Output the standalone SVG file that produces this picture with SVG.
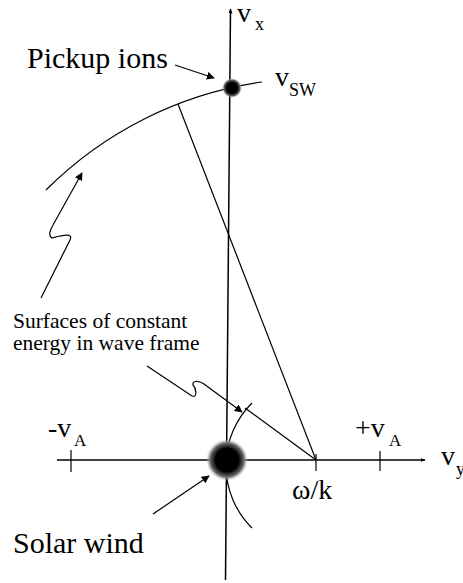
<svg xmlns="http://www.w3.org/2000/svg" width="463" height="583" viewBox="0 0 463 583">
<style>
.ln{fill:none;stroke:#000;stroke-width:1.2}
.ax{fill:none;stroke:#000;stroke-width:1.5}
</style>
<defs>
<marker id="ah" viewBox="0 0 10 10" refX="9" refY="5" markerWidth="8" markerHeight="8" markerUnits="userSpaceOnUse" orient="auto">
<path d="M0,0 L10,5 L0,10 z" fill="#000"/>
</marker>
<marker id="axh" viewBox="0 0 10 10" refX="9" refY="5" markerWidth="5" markerHeight="5" markerUnits="userSpaceOnUse" orient="auto">
<path d="M0,1 L10,5 L0,9 z" fill="#000"/>
</marker>
<radialGradient id="blob">
<stop offset="0" stop-color="#000"/>
<stop offset="0.55" stop-color="#000"/>
<stop offset="0.8" stop-color="#666"/>
<stop offset="1" stop-color="#ccc" stop-opacity="0"/>
</radialGradient>
</defs>
<g id="axes">
<line class="ax" x1="225.5" y1="580" x2="230.5" y2="9" marker-end="url(#axh)"/>
<line class="ax" x1="57" y1="460" x2="425" y2="460" marker-end="url(#axh)"/>
<line class="ln" x1="71" y1="450" x2="71" y2="472"/>
<line class="ln" x1="316" y1="454" x2="316" y2="471"/>
<line class="ln" x1="380" y1="451" x2="380" y2="471"/>
</g>
<g id="connectors">
<path class="ln" d="M46,190 A382,382 0 0 1 262,82"/>
<line class="ln" x1="178" y1="104" x2="316" y2="460"/>
<path class="ln" d="M252,403 A88,88 0 0 0 252,528"/>
<line class="ln" x1="316" y1="460" x2="245" y2="408"/>
<line class="ln" x1="175" y1="65" x2="214" y2="78" marker-end="url(#ah)"/>
<line class="ln" x1="153" y1="514" x2="209" y2="476" marker-end="url(#ah)"/>
<path class="ln" d="M41,298 L70,240 C74,232 60,236 52,238 C48,236 50,230 53,225 L82,173" marker-end="url(#ah)"/>
<path class="ln" d="M147,366 L192,396 C198,398 196,388 193,385 C192,381 198,380 204,384 L242,412" marker-end="url(#ah)"/>
</g>
<g font-family="Liberation Serif, DejaVu Serif, serif" fill="#000">
<g id="pickup-ions">
<circle cx="232" cy="88" r="10" fill="url(#blob)"/>
<text x="27" y="68" font-size="30">Pickup ions</text>
</g>
<g id="solar-wind">
<circle cx="227" cy="460" r="21" fill="url(#blob)"/>
<text x="13" y="553" font-size="30">Solar wind</text>
</g>
<g id="labels">
<text x="237" y="22" font-size="28">v</text>
<text x="255" y="30" font-size="18">x</text>
<text x="275" y="86" font-size="28">v</text>
<text x="289" y="96" font-size="18">SW</text>
<text x="48" y="437" font-size="28">-v</text>
<text x="74" y="446" font-size="17">A</text>
<text x="355" y="437" font-size="28">+v</text>
<text x="389" y="446" font-size="17">A</text>
<text x="441" y="465" font-size="28">v</text>
<text x="456" y="475" font-size="18">y</text>
<text x="292" y="499" font-size="28">ω/k</text>
<text x="13" y="328" font-size="21.5">Surfaces of constant</text>
<text x="13" y="350" font-size="21.5">energy in wave frame</text>
</g>
</g>
</svg>
